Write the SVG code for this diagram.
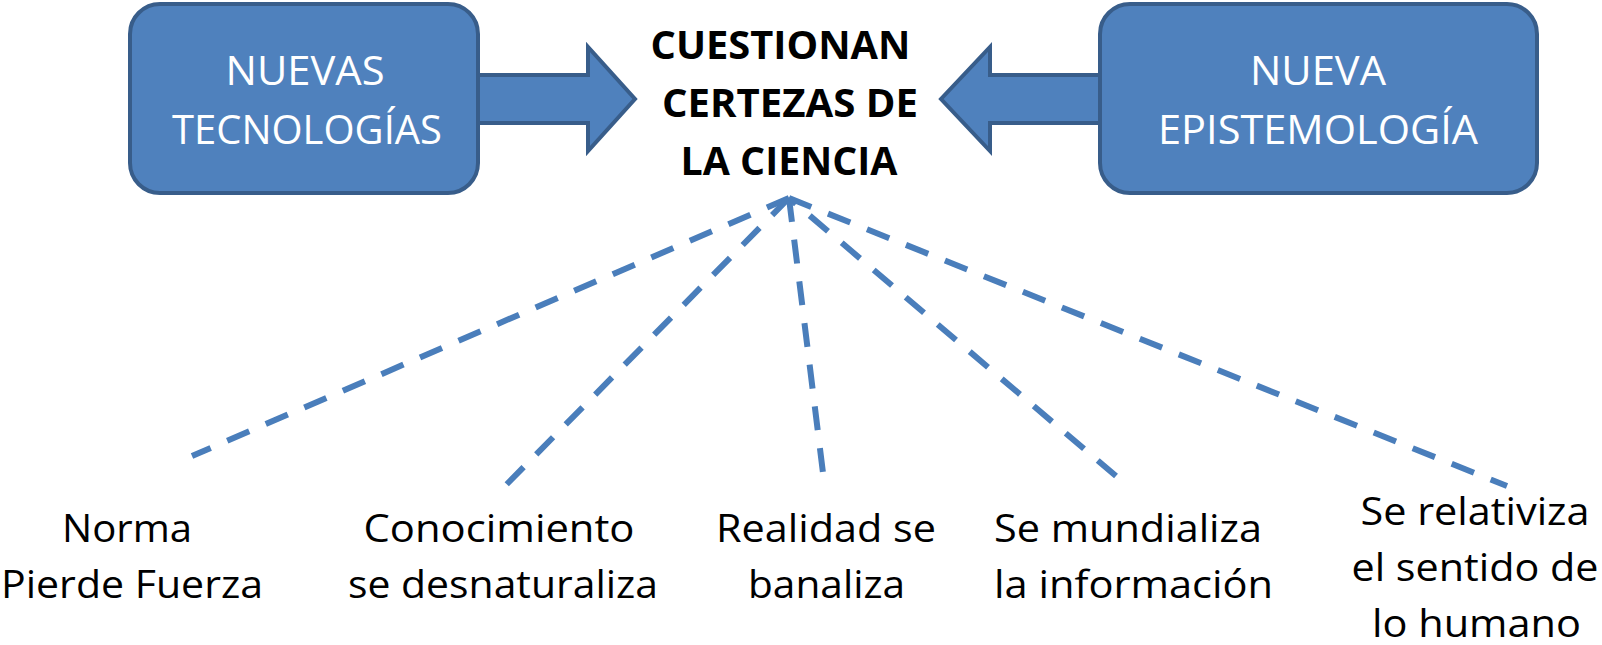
<svg xmlns="http://www.w3.org/2000/svg" width="1602" height="645" viewBox="0 0 1602 645">
<style>
.box{fill:#4F81BD;stroke:#385D8A;stroke-width:4}
.arr{fill:#4F81BD;stroke:#385D8A;stroke-width:4;stroke-linejoin:miter}
.bt{font-family:"Open Sans","Noto Sans",sans-serif;font-size:41px;fill:#FFFFFF;text-anchor:middle}
.tt{font-family:"Open Sans","Noto Sans",sans-serif;font-size:39px;font-weight:bold;fill:#000000;text-anchor:middle}
.lt{font-family:"Open Sans","Noto Sans",sans-serif;font-size:38px;fill:#000000;text-anchor:middle}
.dl{stroke:#4A7EBB;stroke-width:6;stroke-dasharray:24 18;fill:none}
</style>
<rect width="1602" height="645" fill="#FFFFFF"/>
<g id="arrow-left">
<polygon class="arr" points="470,75 588,75 588,47 635,99 588,151 588,123 470,123"/>
</g>
<g id="arrow-right">
<polygon class="arr" points="1110,75 990,75 990,47 941,99 990,151 990,123 1110,123"/>
</g>
<g id="node-nuevas-tecnologias">
<rect class="box" x="130" y="4" width="348" height="189" rx="30" ry="30"/>
<text class="bt" x="305" y="85" textLength="159" lengthAdjust="spacingAndGlyphs">NUEVAS</text>
<text class="bt" x="307" y="144" textLength="270" lengthAdjust="spacingAndGlyphs">TECNOLOGÍAS</text>
</g>
<g id="node-nueva-epistemologia">
<rect class="box" x="1100" y="4" width="437" height="189" rx="30" ry="30"/>
<text class="bt" x="1318" y="85" textLength="136" lengthAdjust="spacingAndGlyphs">NUEVA</text>
<text class="bt" x="1318" y="144" textLength="320" lengthAdjust="spacingAndGlyphs">EPISTEMOLOGÍA</text>
</g>
<g id="node-cuestionan">
<text class="tt" x="780.5" y="59" textLength="260" lengthAdjust="spacingAndGlyphs">CUESTIONAN</text>
<text class="tt" x="790" y="117" textLength="256" lengthAdjust="spacingAndGlyphs">CERTEZAS DE</text>
<text class="tt" x="789" y="175" textLength="217" lengthAdjust="spacingAndGlyphs">LA CIENCIA</text>
</g>
<g id="connectors">
<line class="dl" x1="789" y1="198" x2="192" y2="456"/>
<line class="dl" x1="789" y1="198" x2="506" y2="485"/>
<line class="dl" x1="789" y1="198" x2="823" y2="473"/>
<line class="dl" x1="1116" y1="476" x2="789" y2="198"/>
<line class="dl" x1="789" y1="198" x2="1507" y2="486"/>
</g>
<g id="node-norma">
<text class="lt" x="127" y="542" textLength="130" lengthAdjust="spacingAndGlyphs">Norma</text>
<text class="lt" x="132" y="598" textLength="262" lengthAdjust="spacingAndGlyphs">Pierde Fuerza</text>
</g>
<g id="node-conocimiento">
<text class="lt" x="499" y="542" textLength="271" lengthAdjust="spacingAndGlyphs">Conocimiento</text>
<text class="lt" x="503" y="598" textLength="310" lengthAdjust="spacingAndGlyphs">se desnaturaliza</text>
</g>
<g id="node-realidad">
<text class="lt" x="826" y="542" textLength="220" lengthAdjust="spacingAndGlyphs">Realidad se</text>
<text class="lt" x="826.5" y="598" textLength="157" lengthAdjust="spacingAndGlyphs">banaliza</text>
</g>
<g id="node-mundializa">
<text class="lt" x="994" y="542" style="text-anchor:start" textLength="268" lengthAdjust="spacingAndGlyphs">Se mundializa</text>
<text class="lt" x="994" y="598" style="text-anchor:start" textLength="279" lengthAdjust="spacingAndGlyphs">la información</text>
</g>
<g id="node-relativiza">
<text class="lt" x="1475" y="525" textLength="229" lengthAdjust="spacingAndGlyphs">Se relativiza</text>
<text class="lt" x="1475" y="581" textLength="247" lengthAdjust="spacingAndGlyphs">el sentido de</text>
<text class="lt" x="1476.5" y="637" textLength="209" lengthAdjust="spacingAndGlyphs">lo humano</text>
</g>
</svg>
